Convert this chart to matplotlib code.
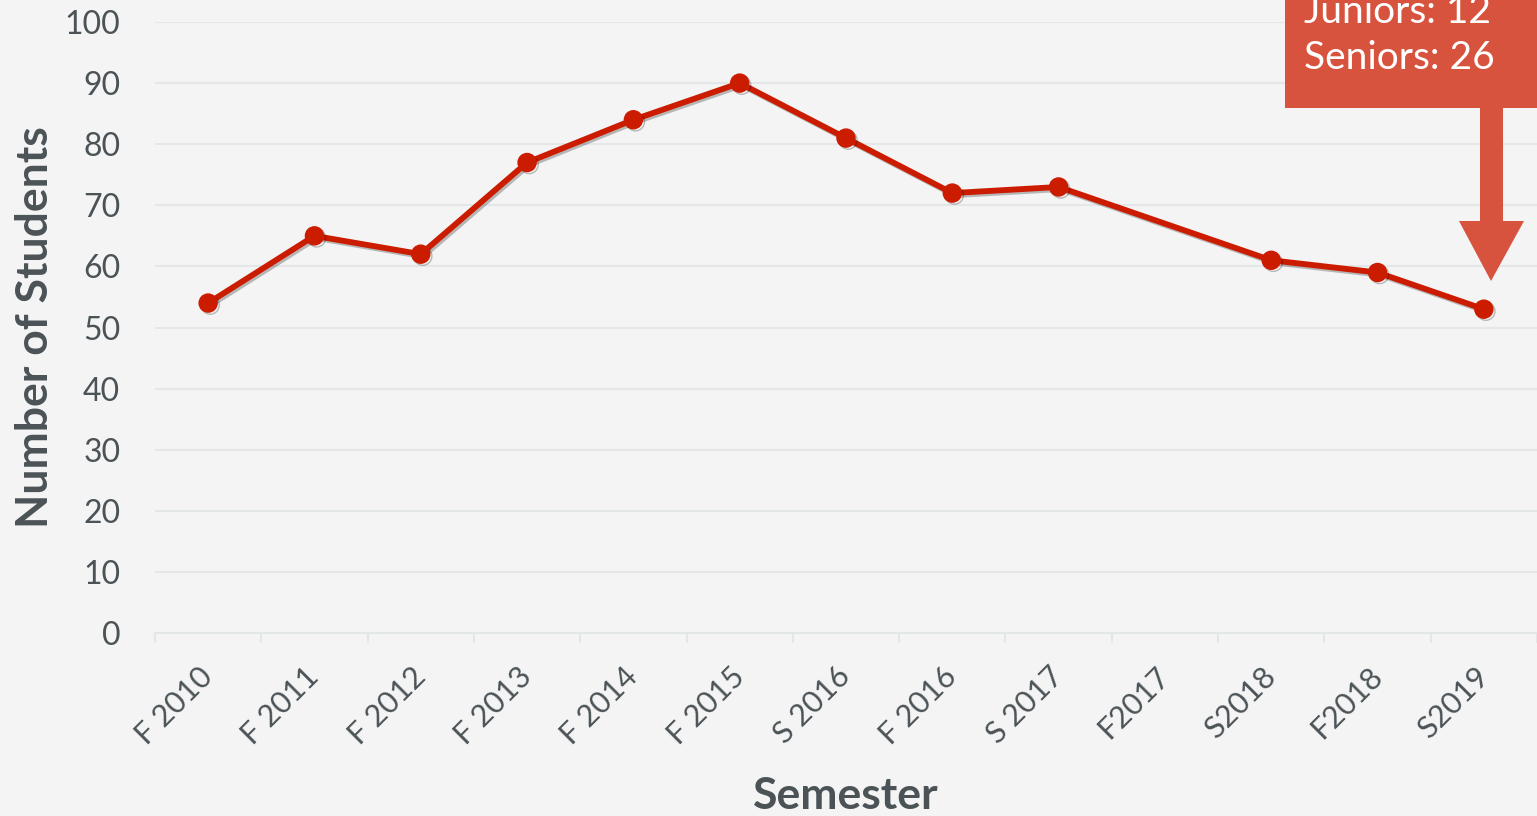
import matplotlib
matplotlib.use("Agg")
import matplotlib.pyplot as plt
import matplotlib.patheffects as pe
from matplotlib.patches import Rectangle, Polygon
import numpy as np

semesters = ["F 2010", "F 2011", "F 2012", "F 2013", "F 2014", "F 2015", "S 2016",
             "F 2016", "S 2017", "F2017", "S2018", "F2018", "S2019"]
students = [54, 65, 62, 77, 84, 90, 81, 72, 73, np.nan, 61, 59, 53]
yticks = [0, 10, 20, 30, 40, 50, 60, 70, 80, 90, 100]
callout_lines = ["Juniors: 12", "Seniors: 26"]

BG = "#f4f4f4"
TXT = "#4b5357"
GRID = "#e4e7e7"
LINE = "#cc1c00"
CALL = "#d8533e"

plt.rcParams['font.family'] = ['Lato', 'DejaVu Sans']

fig = plt.figure(figsize=(15.37, 8.16), dpi=100, facecolor=BG)
ax = fig.add_axes([155/1537, 1-633/816, 1-155/1537, (633-22)/816])
ax.set_facecolor(BG)

x = np.arange(len(semesters))
mask = ~np.isnan(students)
xs = x[mask]
ys = np.array(students)[mask]
ax.plot(xs, ys, color=LINE, lw=4.2, marker='o', markersize=13, zorder=3,
        solid_joinstyle='round',
        path_effects=[pe.SimpleLineShadow(offset=(1.5, -1.5), alpha=0.25, shadow_color='black'), pe.Normal()])

ax.set_xlim(-0.5, len(semesters) - 0.5)
ax.set_ylim(0, 100)
ax.set_yticks(yticks)
ax.set_yticklabels([str(v) for v in yticks], fontsize=23, color=TXT)
ax.tick_params(axis='y', length=0, pad=25)
ax.grid(axis='y', color=GRID, lw=1.5)
ax.set_axisbelow(True)

ax.set_xticks(x)
ax.set_xticklabels(semesters, fontsize=22, color=TXT, rotation=45, ha='right',
                   va='center', rotation_mode='anchor')
ax.tick_params(axis='x', which='major', length=0, pad=28)
ax.set_xticks(np.arange(-0.5, len(semesters), 1.0), minor=True)
ax.tick_params(axis='x', which='minor', length=7, width=1.5, color=GRID)

for s in ['top', 'right', 'left']:
    ax.spines[s].set_visible(False)
ax.spines['bottom'].set_color(GRID)
ax.spines['bottom'].set_linewidth(1.5)

ax.set_xlabel("Semester", fontsize=32, fontweight='bold', color=TXT, va='center')
ax.set_ylabel("Number of Students", fontsize=32, fontweight='bold', color=TXT, va='center')
ax.xaxis.set_label_coords(0.5, -(796 - 633) / 611)
ax.yaxis.set_label_coords(-(155 - 35) / 1382, 0.5)

# callout box (figure pixel coordinates, annotation only)
W, H = 1537, 816
def fp(px, py):
    return (px / W, 1 - py / H)

rect = Rectangle(fp(1285, 108), (1537 - 1285) / W, 120 / H, transform=fig.transFigure,
                 facecolor=CALL, edgecolor='none', zorder=5)
fig.patches.append(rect)
shaft = Rectangle(fp(1480, 222), 23 / W, (222 - 105) / H, transform=fig.transFigure,
                  facecolor=CALL, edgecolor='none', zorder=5)
fig.patches.append(shaft)
head = Polygon([fp(1459, 221), fp(1524, 221), fp(1491, 281)], closed=True,
               transform=fig.transFigure, facecolor=CALL, edgecolor='none', zorder=5)
fig.patches.append(head)

fig.text(1304 / W, 1 - 12 / H, callout_lines[0], color='white', fontsize=28,
         va='center', ha='left', zorder=6)
fig.text(1304 / W, 1 - 58 / H, callout_lines[1], color='white', fontsize=28,
         va='center', ha='left', zorder=6)

fig.savefig("out.png", dpi=100, facecolor=BG)
